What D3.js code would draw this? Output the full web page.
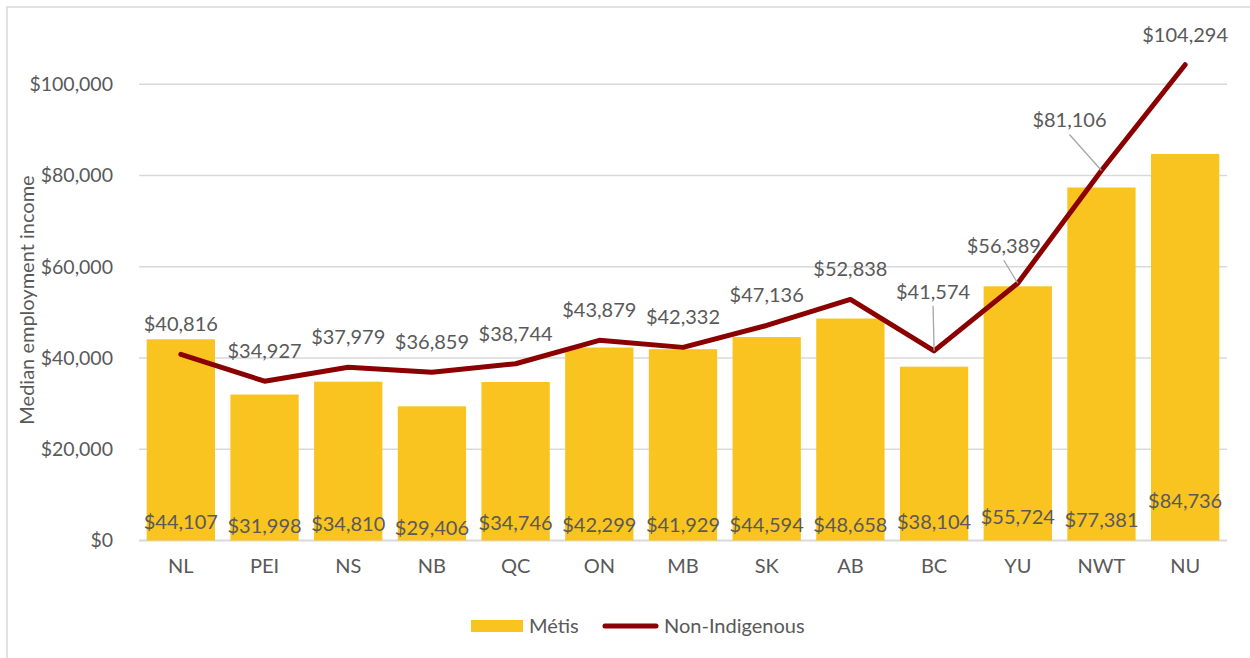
<!DOCTYPE html>
<html>
<head>
<meta charset="utf-8">
<script src="https://cdn.jsdelivr.net/npm/d3@7"></script>
<style>
  html, body { margin: 0; padding: 0; background: #fff; }
  svg { display: block; font-family: Lato, 'Open Sans', sans-serif; }
</style>
</head>
<body>
<div id="chart"></div>
<script>
// Data
const provinces = ["NL", "PEI", "NS", "NB", "QC", "ON", "MB", "SK", "AB", "BC", "YU", "NWT", "NU"];
const metisIncome = [44107, 31998, 34810, 29406, 34746, 42299, 41929, 44594, 48658, 38104, 55724, 77381, 84736];
const nonIndigenousIncome = [40816, 34927, 37979, 36859, 38744, 43879, 42332, 47136, 52838, 41574, 56389, 81106, 104294];
const yTicks = [0, 20000, 40000, 60000, 80000, 100000];

// Manual label nudges (as placed in the original chart)
const metisLabelShift = [-3, 1, -1, 3, -2, 0, 0, 0, 0, -3, -8, -5, -24];
const lineLabelShift = {
    BC: { dx: -1, dy: -59 },
    YU: { dx: -14, dy: -37 },
    NWT: { dx: -32, dy: -50 }
};

const width = 1250, height = 658;
const textColor = "#595959";
const gridColor = "#d9d9d9";
const barColor = "#f9c41f";
const lineColor = "#8b0000";
const fontSize = "20px";
const fmt = d => "$" + d3.format(",")(d);

const svg = d3.select("#chart").append("svg")
    .attr("width", width)
    .attr("height", height);

// chart frame
svg.append("rect")
    .attr("x", 7).attr("y", 7)
    .attr("width", width + 20).attr("height", height + 20)
    .attr("fill", "none")
    .attr("stroke", gridColor)
    .attr("stroke-width", 1.5);

const x = d3.scaleBand()
    .domain(provinces)
    .range([139, 1227])
    .paddingInner(0.184)
    .paddingOuter(0.092);

const y = d3.scaleLinear()
    .domain([0, 100000])
    .range([540.5, 84.3]);

// gridlines
svg.append("g")
    .selectAll("line")
    .data(yTicks)
    .enter()
    .append("line")
    .attr("x1", 139).attr("x2", 1227)
    .attr("y1", d => y(d)).attr("y2", d => y(d))
    .attr("stroke", gridColor)
    .attr("stroke-width", d => d === 0 ? 2 : 1.4);

// y axis labels
const yAxis = d3.axisLeft(y).tickValues(yTicks).tickFormat(fmt).tickSize(0).tickPadding(0);
svg.append("g")
    .attr("transform", "translate(113,0)")
    .call(yAxis)
    .call(g => g.select(".domain").remove())
    .selectAll("text")
    .attr("fill", textColor)
    .attr("font-size", "19.5px")
    .attr("font-family", "Lato, sans-serif");

// x axis labels
const xAxis = d3.axisBottom(x).tickSize(0).tickPadding(0);
svg.append("g")
    .attr("transform", "translate(0,559)")
    .call(xAxis)
    .call(g => g.select(".domain").remove())
    .selectAll("text")
    .attr("fill", textColor)
    .attr("font-size", fontSize)
    .attr("font-family", "Lato, sans-serif");

// y axis title
svg.append("text")
    .attr("transform", "translate(27,300) rotate(-90)")
    .attr("text-anchor", "middle")
    .attr("dy", "0.35em")
    .attr("fill", textColor)
    .attr("font-size", fontSize)
    .text("Median employment income");

// bars
svg.append("g")
    .selectAll("rect")
    .data(provinces)
    .enter()
    .append("rect")
    .attr("x", d => x(d))
    .attr("width", x.bandwidth())
    .attr("y", (d, i) => y(metisIncome[i]))
    .attr("height", (d, i) => y(0) - y(metisIncome[i]))
    .attr("fill", barColor);

// bar labels near the base
svg.append("g")
    .attr("text-anchor", "middle")
    .attr("font-size", fontSize)
    .attr("fill", textColor)
    .selectAll("text")
    .data(provinces)
    .enter()
    .append("text")
    .attr("x", d => x(d) + x.bandwidth() / 2)
    .attr("y", (d, i) => 525 + metisLabelShift[i])
    .attr("dy", "0.35em")
    .text((d, i) => fmt(metisIncome[i]));

// line
const line = d3.line()
    .x((d, i) => x(provinces[i]) + x.bandwidth() / 2)
    .y(d => y(d));

svg.append("path")
    .datum(nonIndigenousIncome)
    .attr("d", line)
    .attr("fill", "none")
    .attr("stroke", lineColor)
    .attr("stroke-width", 5)
    .attr("stroke-linejoin", "round")
    .attr("stroke-linecap", "round");

// line labels + leader lines
const pts = provinces.map((p, i) => {
    const s = lineLabelShift[p] || { dx: 0, dy: -30 };
    const px = x(p) + x.bandwidth() / 2, py = y(nonIndigenousIncome[i]);
    return { p, v: nonIndigenousIncome[i], px, py, lx: px + s.dx, ly: py + s.dy, leader: !!lineLabelShift[p] };
});

svg.append("g")
    .selectAll("line")
    .data(pts.filter(d => d.leader))
    .enter()
    .append("line")
    .attr("x1", d => d.lx).attr("y1", d => d.ly + 14)
    .attr("x2", d => d.px).attr("y2", d => d.py)
    .attr("stroke", "#a6a6a6")
    .attr("stroke-width", 1.3);

svg.append("g")
    .attr("text-anchor", "middle")
    .attr("font-size", fontSize)
    .attr("fill", textColor)
    .selectAll("text")
    .data(pts)
    .enter()
    .append("text")
    .attr("x", d => d.lx)
    .attr("y", d => d.ly)
    .attr("dy", "0.35em")
    .text(d => fmt(d.v));

// legend
const legend = svg.append("g").attr("font-size", fontSize).attr("fill", textColor);
legend.append("rect")
    .attr("x", 471).attr("y", 620)
    .attr("width", 52).attr("height", 12)
    .attr("fill", barColor);
legend.append("text")
    .attr("x", 529).attr("y", 626).attr("dy", "0.35em")
    .text("Métis");
legend.append("line")
    .attr("x1", 605).attr("x2", 656)
    .attr("y1", 626).attr("y2", 626)
    .attr("stroke", lineColor)
    .attr("stroke-width", 5)
    .attr("stroke-linecap", "round");
legend.append("text")
    .attr("x", 664).attr("y", 626).attr("dy", "0.35em")
    .text("Non-Indigenous");
</script>
</body>
</html>
